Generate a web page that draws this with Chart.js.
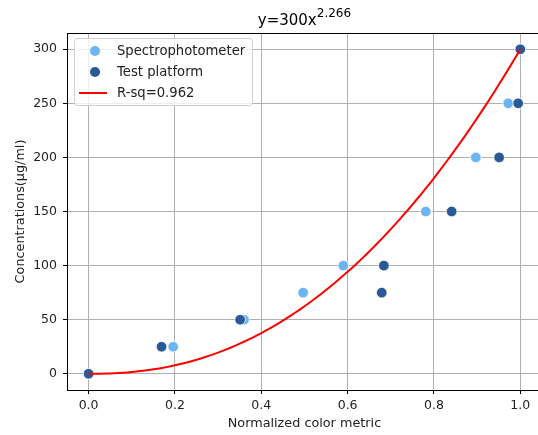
<!DOCTYPE html>
<html>
<head>
<meta charset="utf-8">
<script src="https://cdn.jsdelivr.net/npm/chart.js@4.4.1/dist/chart.umd.min.js"></script>
<style>
  html, body { margin: 0; padding: 0; background: #fff; overflow: hidden; }
  #wrap { width: 548px; height: 435px; }
</style>
</head>
<body>
<div id="wrap"><canvas id="c" width="548" height="435"></canvas></div>
<script>
// Measured concentrations (µg/ml) and normalized color metric for both instruments
const concentrations = [0, 25, 50, 75, 100, 150, 200, 250, 300];
const spectroMetric  = [0, 0.196, 0.360, 0.497, 0.590, 0.781, 0.897, 0.972, 1.0];
const platformMetric = [0, 0.169, 0.351, 0.679, 0.684, 0.841, 0.951, 0.995, 1.0];

// Power-law fit y = a * x^b
const fitA = 300;
const fitB = 2.266;
const fitR2 = 0.962;

const xTicks = [0, 0.2, 0.4, 0.6, 0.8, 1.0];
const yTicks = [0, 50, 100, 150, 200, 250, 300];

const FONT = "'DejaVu Sans', sans-serif";
const LIGHT = '#6db5f0';
const DARK = '#2a5a96';
const TEXT = '#222';

const fitCurve = [];
for (let i = 0; i <= 100; i++) {
  const x = i / 100;
  fitCurve.push({ x: x, y: fitA * Math.pow(x, fitB) });
}

const frameAndTitle = {
  id: 'frameAndTitle',
  afterDraw(chart) {
    const { ctx, chartArea: a } = chart;
    ctx.save();
    ctx.strokeStyle = '#000';
    ctx.lineWidth = 1;
    ctx.strokeRect(Math.round(a.left) + 0.5, Math.round(a.top) + 0.5,
                   Math.round(a.right - a.left), Math.round(a.bottom - a.top));
    // title with superscript exponent
    const base = 'y=' + fitA + 'x';
    const sup = String(fitB);
    ctx.fillStyle = '#000';
    ctx.textBaseline = 'alphabetic';
    ctx.font = '15px ' + FONT;
    const w1 = ctx.measureText(base).width;
    ctx.font = '12px ' + FONT;
    const w2 = ctx.measureText(sup).width;
    const cx = (a.left + a.right) / 2;
    const x0 = cx - (w1 + w2) / 2;
    ctx.font = '15px ' + FONT;
    ctx.textAlign = 'left';
    ctx.fillText(base, x0, 25);
    ctx.font = '12px ' + FONT;
    ctx.fillText(sup, x0 + w1, 17);

    // legend
    const lx = 74, ly = 38, lw = 178, lh = 67;
    ctx.beginPath();
    ctx.roundRect(lx + 0.5, ly + 0.5, lw, lh, 3);
    ctx.fillStyle = 'rgba(255,255,255,0.8)';
    ctx.fill();
    ctx.strokeStyle = '#d0d0d0';
    ctx.lineWidth = 1;
    ctx.stroke();
    const rows = [
      { type: 'pt', color: LIGHT, text: 'Spectrophotometer' },
      { type: 'pt', color: DARK, text: 'Test platform' },
      { type: 'line', color: '#ff0000', text: 'R-sq=' + fitR2 }
    ];
    ctx.font = '13.2px ' + FONT;
    ctx.textBaseline = 'middle';
    rows.forEach((r, i) => {
      const y = 51 + i * 21;
      if (r.type === 'pt') {
        ctx.beginPath();
        ctx.arc(95, y, 5, 0, Math.PI * 2);
        ctx.fillStyle = r.color;
        ctx.fill();
      } else {
        ctx.beginPath();
        ctx.moveTo(79, y);
        ctx.lineTo(107, y);
        ctx.strokeStyle = r.color;
        ctx.lineWidth = 2;
        ctx.stroke();
      }
      ctx.fillStyle = TEXT;
      ctx.fillText(r.text, 117, y + 1);
    });
    ctx.restore();
  }
};

new Chart(document.getElementById('c'), {
  type: 'scatter',
  data: {
    datasets: [
      {
        label: 'R-sq=' + fitR2,
        type: 'line',
        data: fitCurve,
        borderColor: '#ff0000',
        borderWidth: 2,
        pointRadius: 0,
        fill: false,
        tension: 0,
        order: 0
      },
      {
        label: 'Test platform',
        data: platformMetric.map((x, i) => ({ x: x, y: concentrations[i] })),
        backgroundColor: DARK,
        borderColor: '#ffffff',
        borderWidth: 0.8,
        pointRadius: 5.3,
        order: 1
      },
      {
        label: 'Spectrophotometer',
        data: spectroMetric.map((x, i) => ({ x: x, y: concentrations[i] })),
        backgroundColor: LIGHT,
        borderColor: '#ffffff',
        borderWidth: 0.8,
        pointRadius: 5.3,
        order: 2
      }
    ]
  },
  options: {
    responsive: false,
    animation: false,
    layout: { padding: { top: 33, right: 4, left: 0, bottom: 0 } },
    plugins: { legend: { display: false }, tooltip: { enabled: false }, title: { display: false } },
    scales: {
      x: {
        type: 'linear',
        min: -0.05,
        max: 1.05,
        afterBuildTicks: s => { s.ticks = xTicks.map(v => ({ value: v })); },
        afterFit: s => { s.height = 45; },
        ticks: {
          color: TEXT,
          font: { family: FONT, size: 12.5 },
          padding: 4,
          maxRotation: 0,
          callback: v => Number(v).toFixed(1)
        },
        grid: { color: '#b0b0b0', lineWidth: 1, tickColor: '#000', tickLength: 4 },
        border: { display: false },
        title: {
          display: true,
          text: 'Normalized color metric',
          color: TEXT,
          font: { family: FONT, size: 12.8 },
          padding: { top: 2, bottom: 4 }
        }
      },
      y: {
        type: 'linear',
        min: -15,
        max: 315,
        afterBuildTicks: s => { s.ticks = yTicks.map(v => ({ value: v })); },
        afterFit: s => { s.width = 67; },
        ticks: {
          color: TEXT,
          font: { family: FONT, size: 12.5 },
          padding: 6
        },
        grid: { color: '#b0b0b0', lineWidth: 1, tickColor: '#000', tickLength: 4 },
        border: { display: false },
        title: {
          display: true,
          text: 'Concentrations(μg/ml)',
          color: TEXT,
          font: { family: FONT, size: 12.8 },
          padding: { top: 13, bottom: 0 }
        }
      }
    }
  },
  plugins: [frameAndTitle]
});
</script>
</body>
</html>
